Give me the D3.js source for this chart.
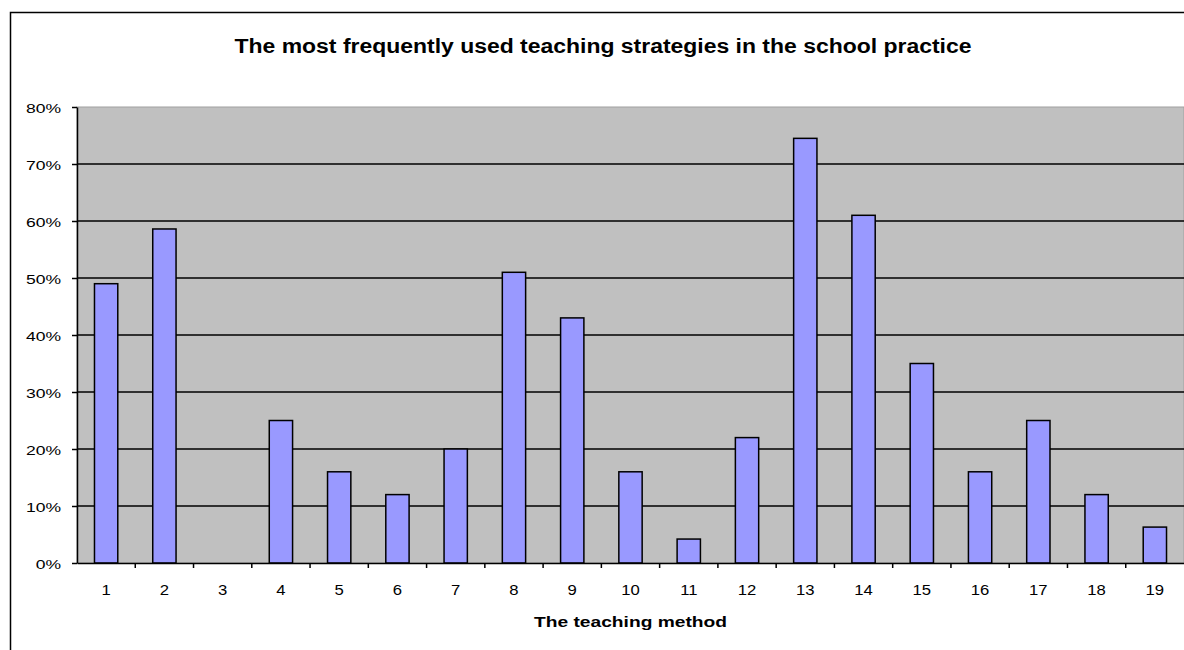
<!DOCTYPE html>
<html><head><meta charset="utf-8">
<script src="https://cdn.jsdelivr.net/npm/d3@7"></script>
<style>body{margin:0;background:#fff;}svg{display:block;font-family:"Liberation Sans",Arial,sans-serif;}</style>
</head><body>
<script>
const categories = ["1","2","3","4","5","6","7","8","9","10","11","12","13","14","15","16","17","18","19"];
const values = [49, 58.6, 0, 25, 16, 12, 20, 51, 43, 16, 4.2, 22, 74.5, 61, 35, 16, 25, 12, 6.3];
const yTicks = [0, 10, 20, 30, 40, 50, 60, 70, 80];
const title = "The most frequently used teaching strategies in the school practice";
const xTitle = "The teaching method";

(function () {
const W = 1184, H = 650;
const FONT = "'Liberation Sans', Arial, sans-serif";
const svg = d3.select("body").append("svg").attr("width", W).attr("height", H);

// outer chart border
svg.append("rect").attr("x", 10.5).attr("y", 12.5).attr("width", W).attr("height", H)
  .attr("fill", "none").attr("stroke", "#000").attr("stroke-width", 1.5);

const pL = 77, pR = 1184, pT = 107, pB = 563;
const x = d3.scaleBand().domain(categories).range([pL, pR]).paddingInner(0).paddingOuter(0);
const y = d3.scaleLinear().domain([0, 80]).range([pB, pT]);

// plot background
svg.append("rect").attr("x", pL).attr("y", pT).attr("width", pR - pL).attr("height", pB - pT)
  .attr("fill", "#c0c0c0").attr("stroke", "#a0a0a0").attr("stroke-width", 1);

// gridlines
svg.append("g").selectAll("line").data(yTicks.filter(d => d > 0 && d < 80)).join("line")
  .attr("x1", pL).attr("x2", pR).attr("y1", d => y(d)).attr("y2", d => y(d))
  .attr("stroke", "#000").attr("stroke-width", 1.5);

// bars
const bw = x.bandwidth() / 2.5;
svg.append("g").selectAll("rect").data(values.map((v, i) => ({c: categories[i], v})).filter(d => d.v > 0)).join("rect")
  .attr("x", d => x(d.c) + x.bandwidth() / 2 - bw / 2)
  .attr("y", d => y(d.v))
  .attr("width", bw)
  .attr("height", d => y(0) - y(d.v))
  .attr("fill", "#9999ff").attr("stroke", "#000").attr("stroke-width", 1.5);

// y axis
const ySX = 1.35;
const yAxis = d3.axisLeft(y).tickValues(yTicks).tickFormat(d => d + "%").tickSize(5).tickSizeOuter(0);
const gy = svg.append("g").attr("transform", `translate(${pL},0)`).call(yAxis);
gy.select(".domain").attr("stroke", "#000").attr("stroke-width", 1.5);
gy.selectAll(".tick line").attr("stroke", "#000").attr("stroke-width", 1.5);
gy.selectAll(".tick text").attr("font-size", 13).attr("fill", "#000")
  .attr("x", -16 / ySX).attr("dy", "0.45em")
  .attr("transform", `scale(${ySX},1)`)
  .attr("font-family", FONT);

// x axis
const xSX = 1.15;
const xAxis = d3.axisBottom(x).tickSize(0).tickSizeOuter(0);
const gx = svg.append("g").attr("transform", `translate(0,${pB})`).call(xAxis);
gx.select(".domain").attr("stroke", "#000").attr("stroke-width", 1.5);
gx.selectAll(".tick text").attr("font-size", 14.5).attr("fill", "#000")
  .attr("y", 32).attr("dy", 0)
  .attr("transform", `scale(${xSX},1)`)
  .attr("font-family", FONT);
// boundary tick marks
svg.append("g").selectAll("line").data(categories.slice(1)).join("line")
  .attr("x1", d => x(d)).attr("x2", d => x(d)).attr("y1", pB).attr("y2", pB + 5)
  .attr("stroke", "#000").attr("stroke-width", 1.5);

// titles
svg.append("text").attr("transform", "translate(603,53) scale(1.12,1)").attr("text-anchor", "middle")
  .attr("font-size", 20.5).attr("font-weight", "bold").attr("fill", "#000").text(title);
svg.append("text").attr("transform", "translate(630.5,627) scale(1.24,1)").attr("text-anchor", "middle")
  .attr("font-size", 15.5).attr("font-weight", "bold").attr("fill", "#000").text(xTitle);
})();
</script>
</body></html>
